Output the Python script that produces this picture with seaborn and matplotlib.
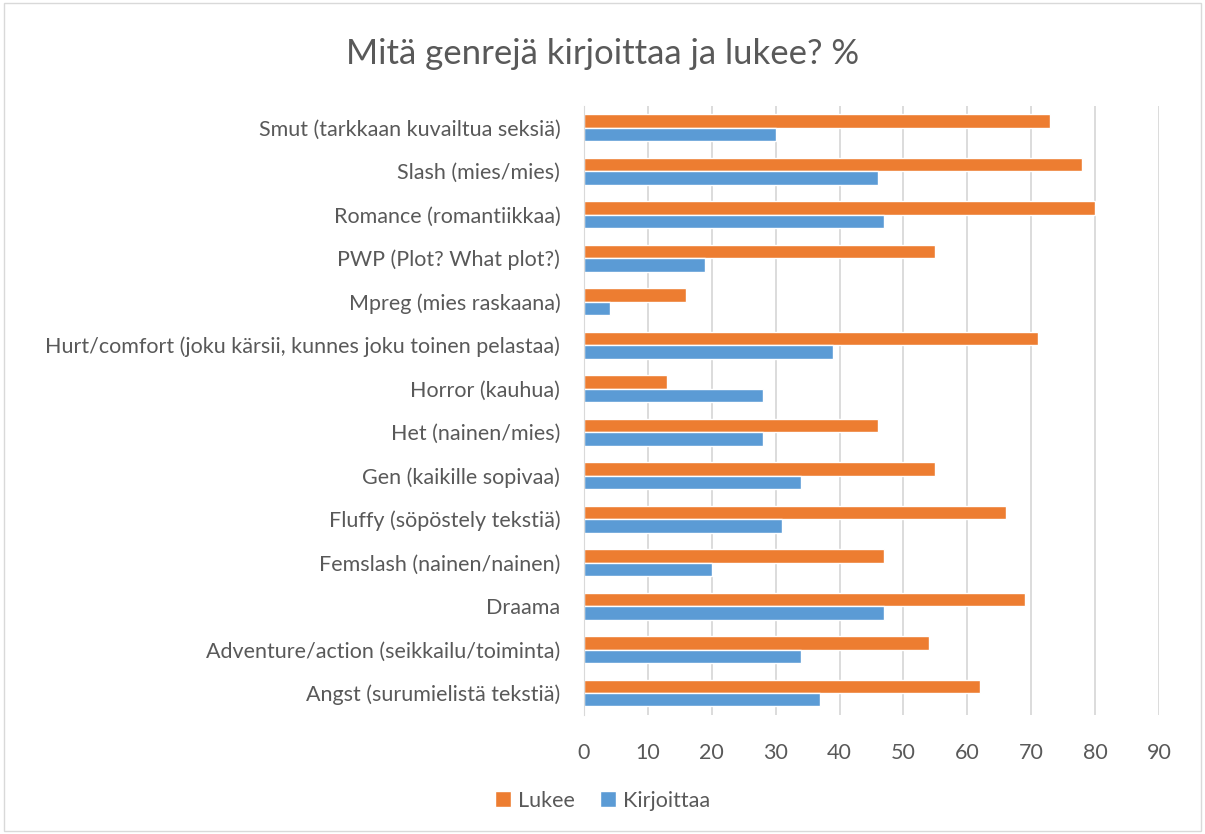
import pandas as pd
import matplotlib.pyplot as plt
import seaborn as sns

genret = ['Smut (tarkkaan kuvailtua seksiä)', 'Slash (mies/mies)', 'Romance (romantiikkaa)',
          'PWP (Plot? What plot?)', 'Mpreg (mies raskaana)',
          'Hurt/comfort (joku kärsii, kunnes joku toinen pelastaa)', 'Horror (kauhua)',
          'Het (nainen/mies)', 'Gen (kaikille sopivaa)', 'Fluffy (söpöstely tekstiä)',
          'Femslash (nainen/nainen)', 'Draama', 'Adventure/action (seikkailu/toiminta)',
          'Angst (surumielistä tekstiä)']
lukee = [73, 78, 80, 55, 16, 71, 13, 46, 55, 66, 47, 69, 54, 62]
kirjoittaa = [30, 46, 47, 19, 4, 39, 28, 28, 34, 31, 20, 47, 34, 37]

df = pd.DataFrame({'genre': genret * 2,
                   'arvo': lukee + kirjoittaa,
                   'sarja': ['Lukee'] * len(genret) + ['Kirjoittaa'] * len(genret)})

sns.set_style('white')
plt.rcParams['font.family'] = ['Lato', 'DejaVu Sans']
teksti = '#595959'

fig = plt.figure(figsize=(12.05, 8.34), dpi=100)
ax = fig.add_axes([0.4846, 0.143, 0.4773, 0.730])
sns.barplot(data=df, y='genre', x='arvo', hue='sarja', order=genret,
            hue_order=['Lukee', 'Kirjoittaa'],
            palette={'Lukee': '#ED7D31', 'Kirjoittaa': '#5B9BD5'},
            width=0.62, orient='h', ax=ax, legend=True, saturation=1)

ax.set_xlim(0, 90)
ax.set_xticks(range(0, 91, 10))
ax.grid(axis='x', color='#D9D9D9', linewidth=1.3)
ax.set_axisbelow(True)
for s in ['top', 'right', 'bottom']:
    ax.spines[s].set_visible(False)
ax.spines['left'].set_color('#D9D9D9')
ax.set_xlabel('')
ax.set_ylabel('')
ax.tick_params(axis='both', length=0, labelsize=15.5, colors=teksti)
ax.tick_params(axis='y', pad=17)
ax.tick_params(axis='x', pad=20)

ax.legend_.remove()
handles, labels = ax.get_legend_handles_labels()
fig.legend(handles, labels, loc='center', bbox_to_anchor=(0.5, 0.04), ncol=2,
           frameon=False, fontsize=15.5, labelcolor=teksti, handlelength=0.75,
           handleheight=0.75, handletextpad=0.3, columnspacing=1.2)

fig.text(0.5, 0.935, 'Mitä genrejä kirjoittaa ja lukee? %', ha='center', va='center',
         fontsize=25, color=teksti)

fig.patches.append(plt.Rectangle((0.003, 0.003), 0.994, 0.994, transform=fig.transFigure,
                                 fill=False, edgecolor='#D9D9D9', linewidth=1))

fig.savefig('out.png', dpi=100)
